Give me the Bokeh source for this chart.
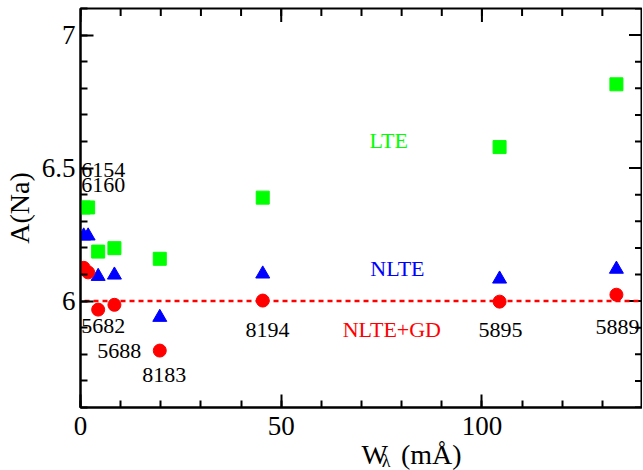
import numpy as np
from bokeh.plotting import figure
from bokeh.layouts import column
from bokeh.models import ColumnDataSource, Range1d, FixedTicker
from bokeh.core.properties import value
from bokeh.embed import file_html
from bokeh.resources import INLINE

# ---- data ----
line_ids = ["6154", "6160", "5682", "5688", "8183", "8194", "5895", "5889"]
w_mA = [0.8, 1.9, 4.4, 8.45, 19.75, 45.4, 104.4, 133.5]
a_lte = [6.352, 6.352, 6.186, 6.199, 6.159, 6.389, 6.579, 6.815]
a_nlte = [6.245, 6.245, 6.093, 6.098, 5.939, 6.102, 6.083, 6.120]
a_nlte_gd = [6.125, 6.108, 5.968, 5.986, 5.814, 6.002, 5.998, 6.024]
ref_x = [1, 140]
ref_y = [6.0, 6.0]

series_names = ["LTE", "NLTE", "NLTE+GD"]
series_colors = ["#00ff00", "#0000ff", "#ff0000"]

# axis ranges and tick positions
x_lo, x_hi = 0.0, 140.0
y_lo, y_hi = 5.6, 7.1
x_major = [0.0, 50.0, 100.0]
x_minor = [float(v) for v in np.arange(0, 141, 10)]
y_major = [6.0, 6.5, 7.0]
y_minor = [round(float(v), 1) for v in np.arange(5.6, 7.11, 0.1)]

# ---- annotation placement (layout only) ----
lab_x = [0.2, 0.2, 0.2, 4.16, 15.37, 41.1, 99.15, 128.3]
lab_y = [6.491, 6.435, 5.908, 5.814, 5.724, 5.891, 5.891, 5.903]
name_x = [72.0, 72.2, 65.3]
name_y = [6.604, 6.121, 5.895]

FONT = "Liberation Serif"
FW, FH = 562, 399          # frame size in pixels
MAJ, MIN = 13, 7           # inward tick lengths in pixels

p = figure(frame_width=FW, frame_height=FH, x_range=Range1d(x_lo, x_hi), y_range=Range1d(y_lo, y_hi),
           output_backend="svg", toolbar_location=None,
           min_border_left=80, min_border_right=0, min_border_top=8, min_border_bottom=36)
p.xgrid.visible = False
p.ygrid.visible = False
p.outline_line_color = "black"
p.outline_line_width = 2
p.background_fill_color = "white"
p.border_fill_color = "white"

def style_axis(ax):
    ax.axis_line_color = "black"
    ax.axis_line_width = 2
    ax.major_tick_in = MAJ
    ax.major_tick_out = 0
    ax.minor_tick_in = MIN
    ax.minor_tick_out = 0
    ax.major_tick_line_width = 2
    ax.minor_tick_line_width = 2
    ax.major_tick_line_color = "black"
    ax.minor_tick_line_color = "black"
    ax.major_label_text_font = FONT
    ax.major_label_text_color = "black"
    ax.major_label_text_font_size = "27px"

p.xaxis.ticker = FixedTicker(ticks=x_major, minor_ticks=x_minor)
p.yaxis.ticker = FixedTicker(ticks=y_major, minor_ticks=y_minor)
style_axis(p.xaxis[0])
style_axis(p.yaxis[0])
p.xaxis.major_label_standoff = 9
p.yaxis.major_label_standoff = 5
p.xaxis.axis_label = None
p.yaxis.axis_label = "A(Na)"
p.yaxis.axis_label_text_font = FONT
p.yaxis.axis_label_text_font_size = "28px"
p.yaxis.axis_label_text_font_style = "normal"
p.yaxis.axis_label_text_color = "black"
p.yaxis.axis_label_standoff = 4

# mirrored inward ticks on the top and right frame edges (drawn slightly inside the edge)
ux = (x_hi - x_lo) / FW    # data units per pixel
uy = (y_hi - y_lo) / FH
rx = x_hi - 0.5 * ux
ty = y_hi - 0.5 * uy
tick_src_r = ColumnDataSource(dict(
    x0=[rx] * (len(y_minor) + len(y_major)),
    x1=[rx - MIN * ux] * len(y_minor) + [rx - MAJ * ux] * len(y_major),
    y=y_minor + y_major))
tick_src_t = ColumnDataSource(dict(
    x=x_minor + x_major,
    y0=[ty] * (len(x_minor) + len(x_major)),
    y1=[ty - MIN * uy] * len(x_minor) + [ty - MAJ * uy] * len(x_major)))
p.segment(x0="x0", y0="y", x1="x1", y1="y", source=tick_src_r, line_color="black", line_width=2)
p.segment(x0="x", y0="y0", x1="x", y1="y1", source=tick_src_t, line_color="black", line_width=2)

src = ColumnDataSource(dict(w=w_mA, lte=a_lte, nlte=a_nlte, gd=a_nlte_gd))

p.line(ref_x, ref_y, line_color="#ff0000", line_width=2.5, line_dash="5 4")
p.scatter("w", "lte", source=src, marker="square", size=13,
          fill_color=series_colors[0], line_color=series_colors[0])
p.scatter("w", "nlte", source=src, marker="triangle", size=14,
          fill_color=series_colors[1], line_color=series_colors[1])
p.scatter("w", "gd", source=src, marker="circle", size=13,
          fill_color=series_colors[2], line_color=series_colors[2])

lab_src = ColumnDataSource(dict(x=lab_x, y=lab_y, t=line_ids))
p.text("x", "y", text="t", source=lab_src, text_font=value(FONT), text_font_size="22px",
       text_color="black", text_align="left", text_baseline="middle")
name_src = ColumnDataSource(dict(x=name_x, y=name_y, t=series_names, c=series_colors))
p.text("x", "y", text="t", source=name_src, text_font=value(FONT), text_font_size="22px",
       text_color="c", text_align="left", text_baseline="middle")

# transparent strip below the plot (slightly overlapping it) holding the x title W_lambda (mÅ)
s = figure(width=643, height=33, x_range=Range1d(0, 643), y_range=Range1d(33, 0),
           output_backend="svg", toolbar_location=None, min_border=0, margin=(-6, 0, 0, 0))
s.axis.visible = False
s.xgrid.visible = False
s.ygrid.visible = False
s.outline_line_color = None
s.background_fill_color = None
s.border_fill_color = None
s.text([321], [17], text=["W"], text_font=value(FONT), text_font_size="28px",
       text_color="black", text_align="left", text_baseline="middle")
s.text([344], [23], text=["λ"], text_font=value(FONT), text_font_size="18px",
       text_color="black", text_align="left", text_baseline="middle")
s.text([366], [17], text=["(mÅ)"], text_font=value(FONT), text_font_size="28px",
       text_color="black", text_align="left", text_baseline="middle")

layout = column(p, s, spacing=0)
open("out.html", "w").write(file_html(layout, INLINE))
